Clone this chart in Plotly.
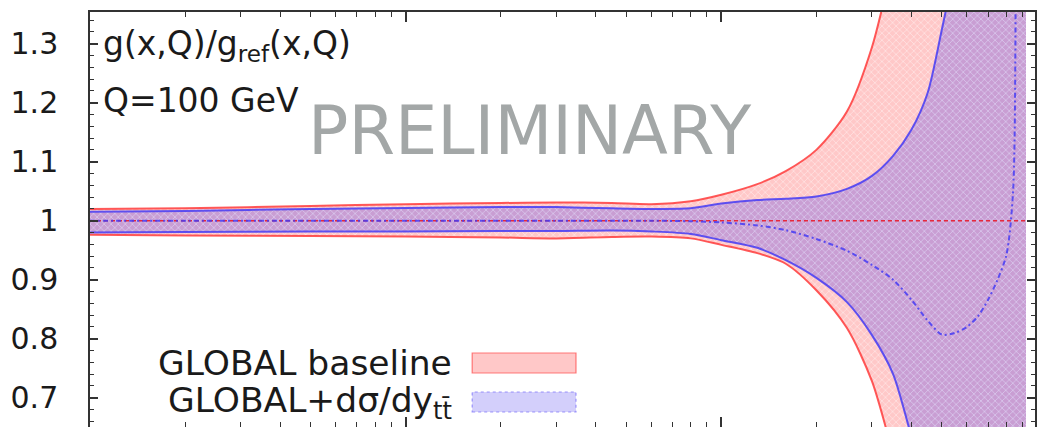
import plotly.graph_objects as go

# momentum fraction x (log axis)
x = [0.001, 0.002, 0.005, 0.01, 0.02, 0.03, 0.045, 0.06, 0.08, 0.1,
     0.13, 0.16, 0.2, 0.25, 0.3, 0.35, 0.4, 0.45, 0.5, 0.55,
     0.6, 0.65, 0.7, 0.75, 0.8, 0.84, 0.86, 0.9, 0.923]

# GLOBAL baseline: uncertainty band edges (central value = reference, i.e. 1)
base_hi = [1.020, 1.021, 1.025, 1.028, 1.030, 1.031, 1.030, 1.028, 1.033, 1.044,
           1.062, 1.084, 1.120, 1.185, 1.294, 1.44, 1.58, 1.70, 1.80, 1.90,
           2.0, 2.1, 2.2, 2.3, 2.4, 2.45, 2.5, 2.55, 2.6]
base_lo = [0.976, 0.975, 0.974, 0.973, 0.9715, 0.970, 0.9724, 0.973, 0.970, 0.959,
           0.945, 0.927, 0.882, 0.818, 0.728, 0.605, 0.50, 0.42, 0.35, 0.29,
           0.24, 0.19, 0.15, 0.11, 0.07, 0.04, 0.02, 0.0, -0.02]
base_mid = [1.0] * len(x)

# GLOBAL + d sigma / dy_ttbar: band edges and central value
ttb_hi = [1.015, 1.0165, 1.020, 1.0215, 1.023, 1.023, 1.021, 1.020, 1.021, 1.029,
          1.035, 1.037, 1.041, 1.054, 1.076, 1.110, 1.154, 1.216, 1.325, 1.43,
          1.53, 1.62, 1.70, 1.77, 1.83, 1.88, 1.9, 1.95, 2.0]
ttb_lo = [0.980, 0.981, 0.9817, 0.9817, 0.9825, 0.9825, 0.9834, 0.9817, 0.9775, 0.967,
          0.954, 0.933, 0.903, 0.862, 0.806, 0.740, 0.635, 0.55, 0.48, 0.42,
          0.37, 0.33, 0.29, 0.26, 0.23, 0.21, 0.2, 0.18, 0.17]
ttb_mid = [1.0, 1.0, 1.0, 1.0, 1.0, 1.0, 1.0, 1.0, 0.999, 0.997,
           0.992, 0.984, 0.969, 0.949, 0.925, 0.900, 0.866, 0.831, 0.807, 0.810,
           0.820, 0.838, 0.866, 0.900, 0.942, 1.05, 1.5, 2.0, 2.2]

y_ticks = [0.7, 0.8, 0.9, 1.0, 1.1, 1.2, 1.3]

W, H = 1037, 427
L, R, T, B = 90, 0, 12, 0
FONT = "DejaVu Sans"
SMOOTH = dict(shape="spline", smoothing=0.8)


def px(xp):
    return (xp - L) / (W - L - R)


def py(yp):
    return (H - B - yp) / (H - T - B)


RED = "rgb(255,60,60)"
BLUE = "rgb(70,60,245)"

fig = go.Figure()

# baseline band
fig.add_trace(go.Scatter(x=x, y=base_lo, mode="lines", line=dict(width=0, **SMOOTH),
                         hoverinfo="skip", showlegend=False))
fig.add_trace(go.Scatter(x=x, y=base_hi, mode="lines", line=dict(width=0, **SMOOTH),
                         fill="tonexty", fillcolor="rgba(255,200,200,0.85)",
                         fillpattern=dict(shape="x", size=5, solidity=0.25,
                                          fgcolor="rgba(255,255,255,1)", fgopacity=0.55,
                                          bgcolor="rgba(255,190,190,0.85)", fillmode="replace"),
                         hoverinfo="skip", showlegend=False))
# ttbar band
fig.add_trace(go.Scatter(x=x, y=ttb_lo, mode="lines", line=dict(width=0, **SMOOTH),
                         hoverinfo="skip", showlegend=False))
fig.add_trace(go.Scatter(x=x, y=ttb_hi, mode="lines", line=dict(width=0, **SMOOTH),
                         fill="tonexty", fillcolor="rgba(120,100,230,0.38)",
                         fillpattern=dict(shape="x", size=5, solidity=0.25,
                                          fgcolor="rgba(255,255,255,1)", fgopacity=0.35,
                                          bgcolor="rgba(120,95,228,0.40)", fillmode="replace"),
                         hoverinfo="skip", showlegend=False))

# band edges
for ys in (base_hi, base_lo):
    fig.add_trace(go.Scatter(x=x, y=ys, mode="lines", line=dict(color=RED, width=2, **SMOOTH),
                             opacity=0.85, hoverinfo="skip", showlegend=False))
for ys in (ttb_hi, ttb_lo):
    fig.add_trace(go.Scatter(x=x, y=ys, mode="lines", line=dict(color=BLUE, width=2, **SMOOTH),
                             opacity=0.85, hoverinfo="skip", showlegend=False))

# central values
fig.add_trace(go.Scatter(x=x, y=base_mid, mode="lines",
                         line=dict(color="rgb(230,40,60)", width=1.4, dash="4px,3px"),
                         hoverinfo="skip", showlegend=False))
fig.add_trace(go.Scatter(x=x, y=ttb_mid, mode="lines",
                         line=dict(color=BLUE, width=2, dash="5px,3px,2px,3px", **SMOOTH),
                         opacity=0.85, hoverinfo="skip", showlegend=False))

axis_col = "#333333"
fig.update_xaxes(type="log", range=[-3, -0.0063], dtick=1,
                 showticklabels=False, ticks="inside", ticklen=10, tickwidth=1.5,
                 tickcolor=axis_col, showline=True, linecolor=axis_col, linewidth=1.5,
                 mirror="ticks", showgrid=False, zeroline=False,
                 minor=dict(ticks="inside", ticklen=5, tickwidth=1.2, tickcolor=axis_col,
                            showgrid=False))
fig.update_yaxes(range=[0.6503, 1.3537], tickvals=y_ticks,
                 ticktext=[f"{v:g}" for v in y_ticks],
                 ticks="inside", ticklen=8, tickwidth=1.5, tickcolor=axis_col,
                 showline=True, linecolor=axis_col, linewidth=1.5, mirror="ticks",
                 showgrid=False, zeroline=False, ticklabelstandoff=24,
                 tickfont=dict(family=FONT, size=30, color="#1a1a1a"),
                 minor=dict(dtick=0.02, ticks="inside", ticklen=4, tickwidth=1.2,
                            tickcolor=axis_col, showgrid=False))

ann = [
    dict(x=px(101), y=py(46), text="g(x,Q)/g<sub>ref</sub>(x,Q)", xanchor="left", yanchor="middle",
         font=dict(family=FONT, size=33, color="#1a1a1a")),
    dict(x=px(101), y=py(101), text="Q=100 GeV", xanchor="left", yanchor="middle",
         font=dict(family=FONT, size=33, color="#1a1a1a")),
    dict(x=px(531), y=py(131), text="PRELIMINARY", xanchor="center", yanchor="middle",
         font=dict(family=FONT, size=67, color="#a3a7a7")),
    dict(x=px(455), y=py(363), text="GLOBAL baseline", xanchor="right", yanchor="middle",
         font=dict(family=FONT, size=34.5, color="#1a1a1a")),
    dict(x=px(455), y=py(402), text="GLOBAL+dσ/dy<sub>tt̄</sub>", xanchor="right", yanchor="middle",
         font=dict(family=FONT, size=34.5, color="#1a1a1a")),
]
for a in ann:
    a.update(xref="paper", yref="paper", showarrow=False)

shapes = [
    dict(type="rect", xref="paper", yref="paper", x0=px(473), x1=px(577), y0=py(373), y1=py(353),
         fillcolor="rgba(255,190,190,0.85)", line=dict(color="rgba(255,90,90,0.8)", width=1.2)),
    dict(type="rect", xref="paper", yref="paper", x0=px(473), x1=px(577), y0=py(412), y1=py(392),
         fillcolor="rgba(200,195,250,0.8)", line=dict(color="rgba(120,110,250,0.7)", width=1.2,
                                                     dash="dot")),
]

fig.update_layout(width=W, height=H, margin=dict(l=L, r=R, t=T, b=B),
                  paper_bgcolor="white", plot_bgcolor="white",
                  annotations=ann, shapes=shapes, showlegend=False)

fig.write_html("out.html")
